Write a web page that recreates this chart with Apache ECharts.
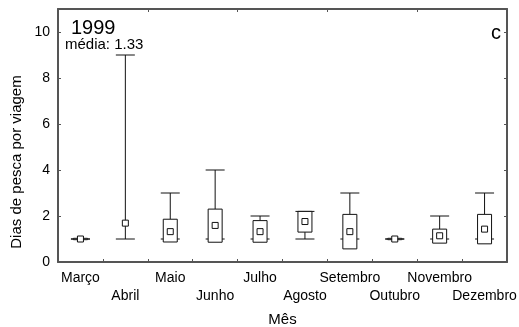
<!DOCTYPE html>
<html>
<head>
<meta charset="utf-8">
<script src="https://cdn.jsdelivr.net/npm/echarts@6/dist/echarts.min.js"></script>
<style>
  html, body { margin: 0; padding: 0; background: #fff; }
  #chart { width: 519px; height: 327px; }
</style>
</head>
<body>
<div id="chart"></div>
<script>
const months = ['Março', 'Abril', 'Maio', 'Junho', 'Julho', 'Agosto', 'Setembro', 'Outubro', 'Novembro', 'Dezembro']
const whiskerLow = [1, 1, 1, 1, 1, 1, 1, 1, 1, 1]
const whiskerHigh = [1, 9, 3, 4, 2, 2.2, 3, 1, 2, 3]
const boxLow = [0.97, null, 0.87, 0.86, 0.86, 1.3, 0.57, 0.97, 0.82, 0.79]
const boxHigh = [1.03, null, 1.86, 2.3, 1.8, 2.2, 2.07, 1.03, 1.43, 2.07]
const centre = [1, 1.69, 1.32, 1.59, 1.32, 1.76, 1.32, 1, 1.14, 1.43]
const yTicks = [0, 2, 4, 6, 8, 10]

const FONT = 'Liberation Sans, Arial, sans-serif'
const frame = '#555'
const ink = '#111'

const chart = echarts.init(document.getElementById('chart'))

const rows = months.map((m, i) => [
  i,
  whiskerLow[i],
  whiskerHigh[i],
  boxLow[i] == null ? '-' : boxLow[i],
  boxHigh[i] == null ? '-' : boxHigh[i],
  centre[i],
])

function renderBox(params, api) {
  const i = api.value(0)
  const x = api.coord([i, 0])[0]
  const y = (v) => api.coord([i, v])[1]
  const lo = api.value(1)
  const hi = api.value(2)
  const bl = api.value(3)
  const bh = api.value(4)
  const m = api.value(5)
  const capW = 9.5
  const boxW = 7
  const mk = 3
  const line = (x1, y1, x2, y2) => ({
    type: 'line',
    shape: { x1, y1, x2, y2 },
    style: { stroke: ink, lineWidth: 1 },
  })
  const kids = []
  const hasBox = !isNaN(bl) && !isNaN(bh)
  if (hasBox) {
    if (hi > bh) kids.push(line(x, y(bh), x, y(hi)))
    if (lo < bl) kids.push(line(x, y(lo), x, y(bl)))
  } else {
    kids.push(line(x, y(lo), x, y(hi)))
  }
  kids.push(line(x - capW, y(lo), x + capW, y(lo)))
  kids.push(line(x - capW, y(hi), x + capW, y(hi)))
  if (hasBox) {
    kids.push({
      type: 'rect',
      shape: { x: x - boxW, y: y(bh), width: boxW * 2, height: y(bl) - y(bh) },
      style: { fill: '#fff', stroke: ink, lineWidth: 1 },
    })
  }
  kids.push({
    type: 'rect',
    shape: { x: x - mk, y: y(m) - mk, width: mk * 2, height: mk * 2 },
    style: { fill: '#fff', stroke: ink, lineWidth: 1 },
  })
  return { type: 'group', children: kids }
}

const axisLine = { show: true, onZero: false, lineStyle: { color: frame, width: 2 } }
const axisTick = { show: true, inside: true, length: 3, lineStyle: { color: frame, width: 1 } }

chart.setOption({
  animation: false,
  backgroundColor: '#fff',
  textStyle: { fontFamily: FONT },
  grid: { left: 58, right: 12, top: 9, bottom: 65, outerBoundsMode: 'none', containLabel: false },
  xAxis: [
    {
      type: 'category',
      data: months,
      boundaryGap: true,
      axisLine,
      axisTick,
      axisLabel: {
        color: '#000',
        fontSize: 14,
        fontFamily: FONT,
        margin: 7,
        lineHeight: 18,
        interval: 0,
        formatter: (v, i) => (i % 2 ? '\n' + v : v),
      },
      name: 'Mês',
      nameLocation: 'middle',
      nameGap: 50,
      nameTextStyle: { color: '#000', fontSize: 15, fontFamily: FONT },
    },
    {
      type: 'category',
      data: months,
      position: 'top',
      boundaryGap: true,
      axisLine,
      axisTick,
      axisLabel: { show: false },
    },
  ],
  yAxis: [
    {
      type: 'value',
      min: yTicks[0],
      max: 11,
      interval: 2,
      axisLine,
      axisTick,
      splitLine: { show: false },
      axisLabel: {
        color: '#000',
        fontSize: 14,
        fontFamily: FONT,
        margin: 8,
        showMaxLabel: false,
      },
    },
    {
      type: 'value',
      position: 'right',
      min: yTicks[0],
      max: 11,
      interval: 2,
      axisLine,
      axisTick,
      splitLine: { show: false },
      axisLabel: { show: false },
    },
  ],
  graphic: [
    {
      type: 'text',
      x: 17,
      y: 162,
      rotation: Math.PI / 2,
      style: {
        text: 'Dias de pesca por viagem',
        font: '15px ' + FONT,
        fill: '#000',
        align: 'center',
        verticalAlign: 'middle',
      },
    },
    {
      type: 'text',
      left: 71,
      top: 18,
      style: { text: '1999', font: '20px ' + FONT, fill: '#000' },
    },
    {
      type: 'text',
      left: 65,
      top: 37,
      style: { text: 'média: 1.33', font: '15px ' + FONT, fill: '#000' },
    },
    {
      type: 'text',
      left: 491,
      top: 23,
      style: { text: 'c', font: '20px ' + FONT, fill: '#000' },
    },
  ],
  series: [
    {
      type: 'custom',
      xAxisIndex: 0,
      yAxisIndex: 0,
      silent: true,
      encode: { x: 0, y: [1, 2] },
      data: rows,
      renderItem: renderBox,
    },
  ],
})
</script>
</body>
</html>
